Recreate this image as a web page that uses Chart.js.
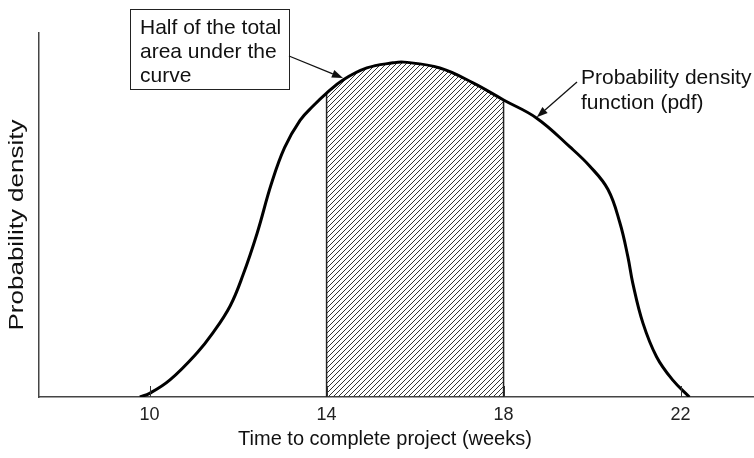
<!DOCTYPE html>
<html>
<head>
<meta charset="utf-8">
<script src="https://cdn.jsdelivr.net/npm/chart.js@4.4.1/dist/chart.umd.min.js"></script>
<style>
  html, body { margin: 0; padding: 0; background: #fff; }
  canvas { display: block; }
</style>
</head>
<body>
<canvas id="c" width="754" height="458"></canvas>
<script>
// ---- data ----
const xValues       = [9.78, 10.0, 10.46, 11.07, 11.43, 11.82, 12.11, 12.43, 12.75, 13.05, 13.4, 13.7, 14.0, 14.37, 14.91, 15.5, 15.75, 16.56, 17.31, 18.0, 18.75, 19.5, 19.95, 20.36, 20.63, 20.81, 20.92, 21.15, 21.46, 21.82, 22.2];
const densityValues = [0,    1.0,  4.7,   12.1,  17.6,  25.0,  33.5,  45.0,  58.5,  68.5,  76.0, 80.0, 83.5, 87.1,  90.4,  91.8, 92.0,  90.4,  86.3,  81.6, 76.6,  68.7, 63.4,  57.0,  47.8,  38.5,  31.3,  20.3,  11.0,  4.7,   0];
const tickValues    = [10, 14, 18, 22];
const shadeStart = 14;
const shadeEnd   = 18;
const xAxisTitle = 'Time to complete project (weeks)';
const yAxisTitle = 'Probability density';
const halfAreaLabel = ['Half of the total', 'area under the', 'curve'];
const pdfLabel      = ['Probability density', 'function (pdf)'];
const halfAreaArrowX = 14.37;
const pdfArrowX      = 18.75;

const FONT = "'Liberation Sans', Arial, Helvetica, sans-serif";

const curvePoints = xValues.map((x, i) => ({ x: x, y: densityValues[i] }));
const shadePoints = curvePoints.filter(p => p.x >= shadeStart && p.x <= shadeEnd);
const yAt = x => densityValues[xValues.indexOf(x)];
const edgeStart = [{ x: shadeStart, y: 0 }, { x: shadeStart, y: yAt(shadeStart) }];
const edgeEnd   = [{ x: shadeEnd, y: 0 },   { x: shadeEnd,   y: yAt(shadeEnd) }];

const canvas = document.getElementById('c');
const ctx = canvas.getContext('2d');

function makeHatch() {
  const s = 5;
  const c = document.createElement('canvas');
  c.width = s; c.height = s;
  const g = c.getContext('2d');
  g.strokeStyle = '#333';
  g.lineWidth = 1;
  g.beginPath();
  g.moveTo(0, s); g.lineTo(s, 0);
  g.moveTo(-1, 1); g.lineTo(1, -1);
  g.moveTo(s - 1, s + 1); g.lineTo(s + 1, s - 1);
  g.stroke();
  return ctx.createPattern(c, 'repeat');
}

function arrow(g, x1, y1, x2, y2) {
  const ang = Math.atan2(y2 - y1, x2 - x1);
  const L = 11, W = 4;
  const bx = x2 - L * Math.cos(ang), by = y2 - L * Math.sin(ang);
  g.beginPath();
  g.moveTo(x1, y1); g.lineTo(bx, by);
  g.stroke();
  g.beginPath();
  g.moveTo(x2, y2);
  g.lineTo(bx + W * Math.sin(ang), by - W * Math.cos(ang));
  g.lineTo(bx - W * Math.sin(ang), by + W * Math.cos(ang));
  g.closePath();
  g.fill();
}

const decorPlugin = {
  id: 'decor',
  afterDraw(chart) {
    const g = chart.ctx;
    const xs = chart.scales.x, ys = chart.scales.y;
    const area = chart.chartArea;
    g.save();
    // inward tick marks
    g.strokeStyle = '#333';
    g.lineWidth = 1;
    tickValues.forEach(v => {
      const px = Math.round(xs.getPixelForValue(v)) + 0.5;
      g.beginPath();
      g.moveTo(px, area.bottom);
      g.lineTo(px, area.bottom - 11);
      g.stroke();
    });

    g.fillStyle = '#111';
    // x axis title
    g.font = '20px ' + FONT;
    g.textAlign = 'center';
    g.textBaseline = 'alphabetic';
    g.fillText(xAxisTitle, 385, 445);

    // y axis title (stretched along its length like the reference)
    g.save();
    g.translate(23, 225);
    g.rotate(-Math.PI / 2);
    g.scale(1.3, 1);
    g.fillText(yAxisTitle, 0, 0);
    g.restore();

    // boxed annotation
    g.font = '21px ' + FONT;
    g.textAlign = 'left';
    g.strokeStyle = '#222';
    g.lineWidth = 1;
    g.strokeRect(130.5, 9.5, 159, 80);
    halfAreaLabel.forEach((t, i) => g.fillText(t, 140, 34 + i * 24));

    // pdf annotation
    pdfLabel.forEach((t, i) => g.fillText(t, 581, 84 + i * 25));

    // arrows anchored on the curve
    g.strokeStyle = '#111';
    g.fillStyle = '#111';
    g.lineWidth = 1.3;
    arrow(g, 289, 56, xs.getPixelForValue(halfAreaArrowX), ys.getPixelForValue(yAt(halfAreaArrowX)) - 2);
    arrow(g, 577, 82, xs.getPixelForValue(pdfArrowX), ys.getPixelForValue(yAt(pdfArrowX)) - 1);
    g.restore();
  }
};

new Chart(ctx, {
  type: 'line',
  data: {
    datasets: [
      {
        data: curvePoints,
        borderColor: '#000',
        borderWidth: 3,
        pointRadius: 0,
        fill: false,
        tension: 0.4,
        order: 0
      },
      {
        data: shadePoints,
        borderColor: 'rgba(0,0,0,0)',
        borderWidth: 0,
        backgroundColor: makeHatch(),
        pointRadius: 0,
        fill: 'origin',
        tension: 0.4,
        order: 2
      },
      {
        data: edgeStart,
        borderColor: '#222',
        borderWidth: 1.5,
        pointRadius: 0,
        fill: false,
        order: 1
      },
      {
        data: edgeEnd,
        borderColor: '#222',
        borderWidth: 1.5,
        pointRadius: 0,
        fill: false,
        order: 1
      }
    ]
  },
  options: {
    responsive: false,
    animation: false,
    devicePixelRatio: 1,
    layout: { padding: { left: 0, top: 33, right: 0, bottom: 0 } },
    plugins: { legend: { display: false }, tooltip: { enabled: false } },
    scales: {
      x: {
        type: 'linear',
        min: 7.5,
        max: 23.66,
        afterBuildTicks: s => { s.ticks = tickValues.map(v => ({ value: v })); },
        afterFit: s => { s.height = 61; },
        ticks: {
          font: { family: FONT, size: 18 },
          color: '#222',
          padding: 7,
          maxRotation: 0,
          autoSkip: false
        },
        grid: { display: false, drawTicks: false },
        border: { display: true, color: '#444', width: 1.5 }
      },
      y: {
        min: 0,
        max: 100,
        afterFit: s => { s.width = 39; },
        ticks: { display: false },
        grid: { display: false, drawTicks: false },
        border: { display: true, color: '#444', width: 1.5 }
      }
    }
  },
  plugins: [decorPlugin]
});
</script>
</body>
</html>
